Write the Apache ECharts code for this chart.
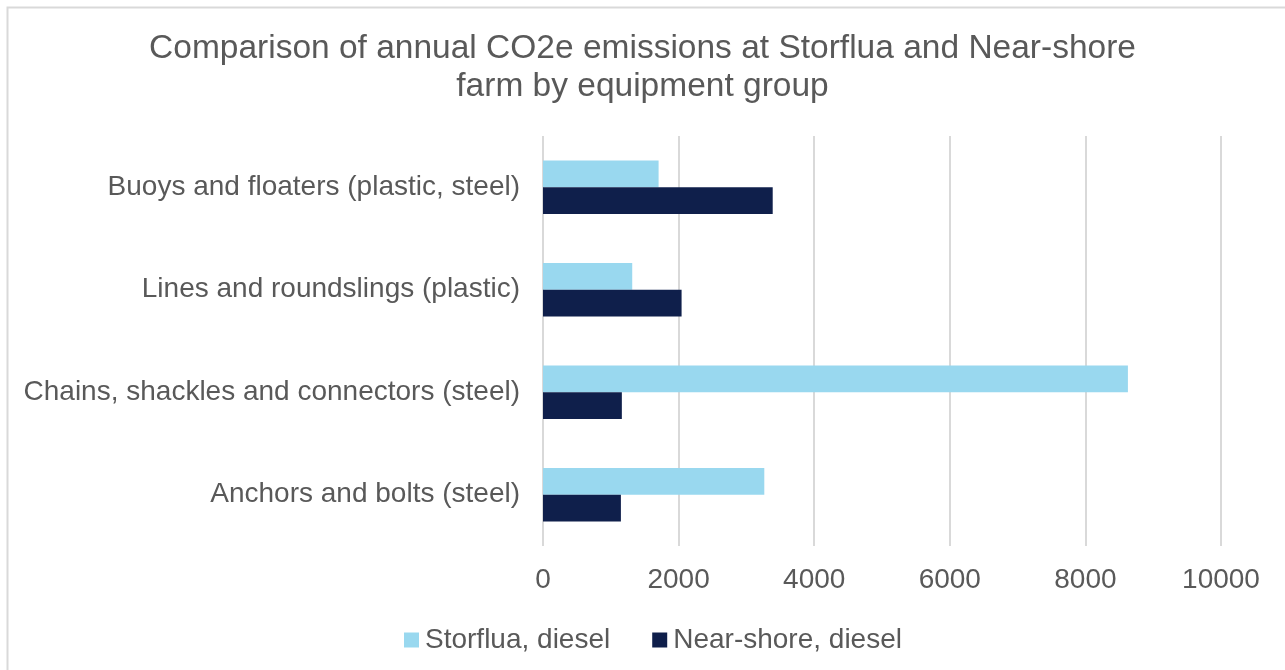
<!DOCTYPE html>
<html>
<head>
<meta charset="utf-8">
<script src="https://cdn.jsdelivr.net/npm/echarts@6/dist/echarts.min.js"></script>
<style>
html,body{margin:0;padding:0;background:#fff;}
#chart{width:1285px;height:670px;}
</style>
</head>
<body>
<div id="chart"></div>
<script>
const titleText = 'Comparison of annual CO2e emissions at Storflua and Near-shore\nfarm by equipment group';
const categories = ['Buoys and floaters (plastic, steel)', 'Lines and roundslings (plastic)', 'Chains, shackles and connectors (steel)', 'Anchors and bolts (steel)'];
const seriesNames = ['Storflua, diesel', 'Near-shore, diesel'];
const storfluaValues = [1705, 1316, 8627, 3264];
const nearShoreValues = [3388, 2044, 1163, 1149];
const xTicks = { min: 0, max: 10000, interval: 2000 };

const FONT = '"Liberation Sans", Arial, sans-serif';
const TXT = '#595959';
const chart = echarts.init(document.getElementById('chart'), null, { renderer: 'canvas' });
chart.setOption({
  backgroundColor: '#fff',
  animation: false,
  graphic: [{
    type: 'rect', left: 5, top: 5, silent: true,
    shape: { x: 0, y: 0, width: 1300, height: 700 },
    style: { fill: 'none', stroke: '#d9d9d9', lineWidth: 2 }
  }],
  title: {
    text: titleText,
    left: 'center', top: 25,
    textStyle: { fontFamily: FONT, fontSize: 33.5, fontWeight: 'normal', color: TXT, lineHeight: 38 }
  },
  legend: {
    left: 399, top: 621,
    itemWidth: 15, itemHeight: 15, itemGap: 42,
    icon: 'rect',
    textStyle: { fontFamily: FONT, fontSize: 28, color: TXT, padding: [0, 0, 0, 1] },
    data: seriesNames
  },
  grid: { left: 543, right: 64, top: 136, bottom: 124, containLabel: false },
  xAxis: {
    type: 'value', min: xTicks.min, max: xTicks.max, interval: xTicks.interval,
    axisLine: { show: false }, axisTick: { show: false },
    splitLine: { show: true, lineStyle: { color: '#d9d9d9', width: 2 } },
    axisLabel: { fontFamily: FONT, fontSize: 28, color: TXT, margin: 20, formatter: function (v) { return String(v); } }
  },
  yAxis: {
    type: 'category', inverse: true, data: categories,
    axisLine: { show: false }, axisTick: { show: false },
    axisLabel: { fontFamily: FONT, fontSize: 28, color: TXT, margin: 23 }
  },
  series: [
    { name: seriesNames[0], type: 'bar', data: storfluaValues, barWidth: '26%', barGap: '0%', itemStyle: { color: '#99D8EF' } },
    { name: seriesNames[1], type: 'bar', data: nearShoreValues, barWidth: '26%', barGap: '0%', itemStyle: { color: '#0F1F4B' } }
  ]
});
</script>
</body>
</html>
